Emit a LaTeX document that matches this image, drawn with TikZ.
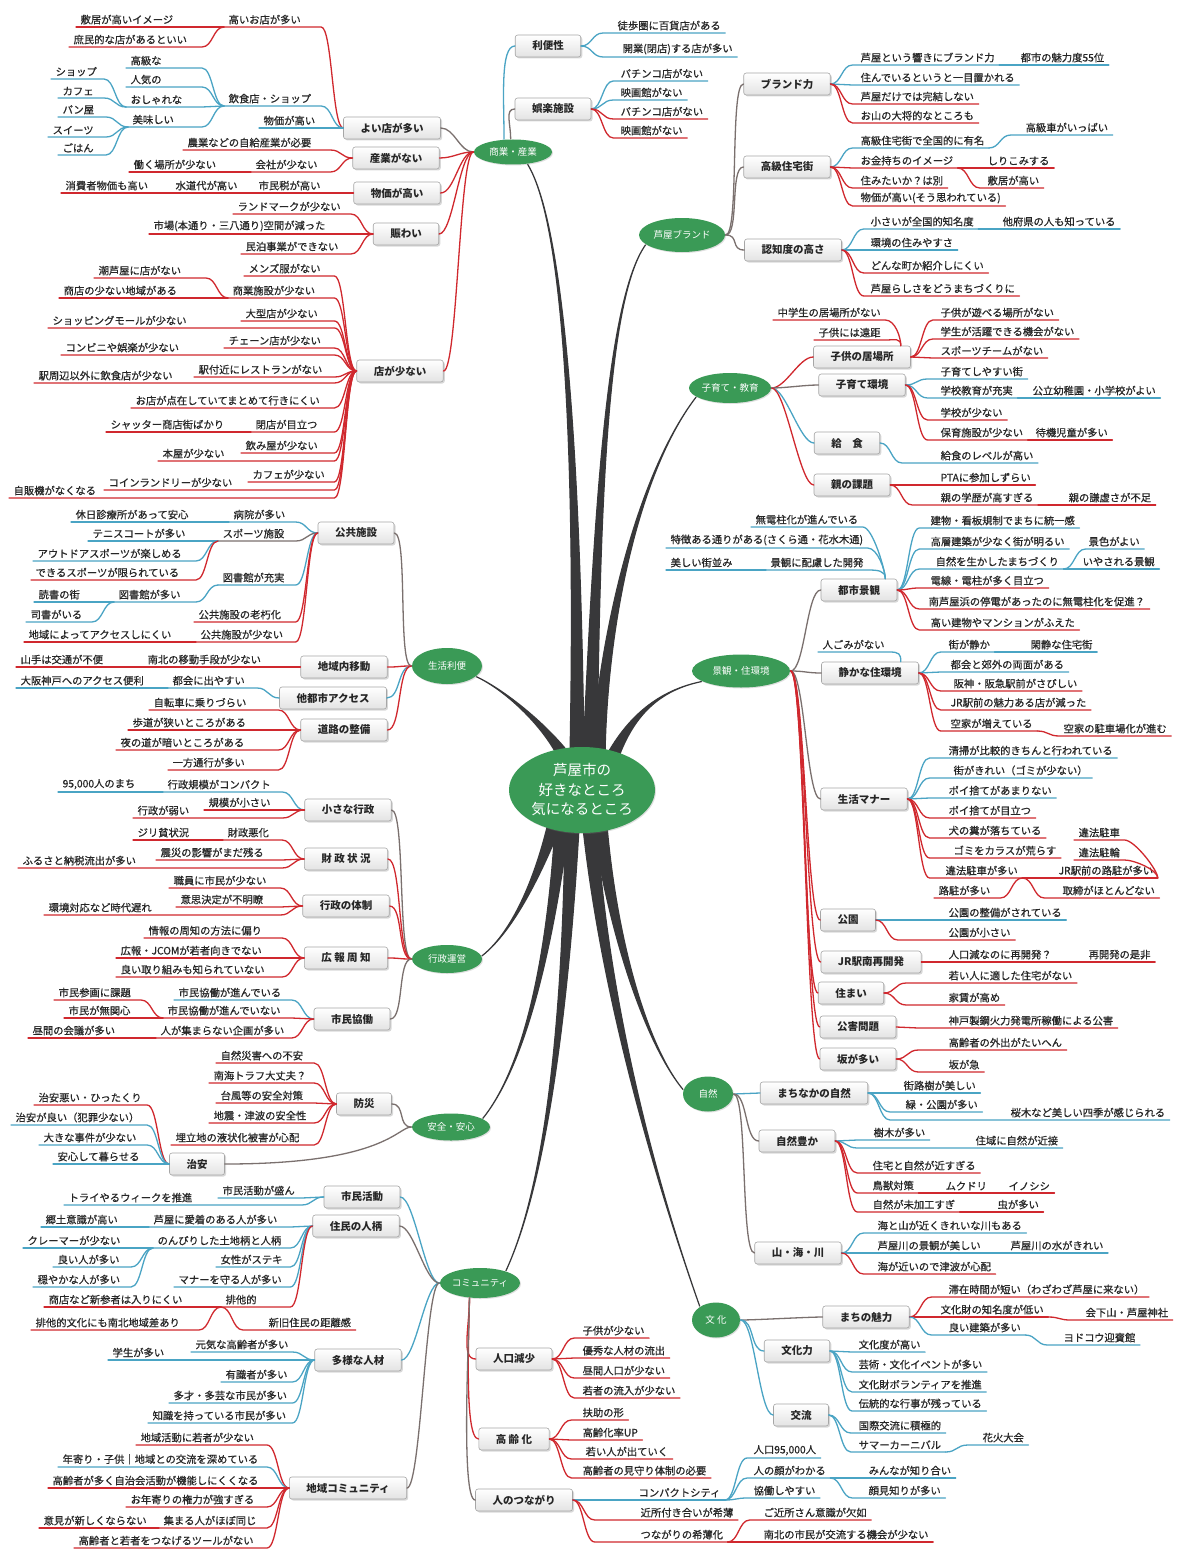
\documentclass[tikz,border=0pt]{standalone}
\usepackage{fontspec}
\setmainfont{Noto Sans CJK JP}
\newfontfamily\leafjp{Noto Sans CJK JP}[FakeBold=0.6]
\usetikzlibrary{shapes.geometric,shadows,backgrounds}

\definecolor{mred}{RGB}{208,40,46}
\definecolor{mblue}{RGB}{74,164,196}
\definecolor{mgray}{RGB}{122,112,110}
\definecolor{mgreen}{RGB}{58,154,86}
\definecolor{mtrunk}{RGB}{56,56,58}

\newcommand\leaffont{\leafjp\fontsize{10.3}{12}\selectfont}
\newcommand\topicfont{\fontsize{10.5}{12}\selectfont\bfseries}
\newcommand\branchfont{\fontsize{9.5}{11}\selectfont}
\newcommand\centerfont{\fontsize{14.5}{19.5}\selectfont}

\tikzset{
  leaf/.style={inner xsep=4pt, inner ysep=2pt, font=\leaffont, text=black!85},
  topic/.style={draw=gray!70, line width=.6pt, rounded corners=2.5pt, top color=white,
    bottom color=gray!22, minimum height=22pt, inner xsep=17pt, font=\topicfont, text=black!85,
    drop shadow={shadow xshift=1.5pt, shadow yshift=-1.5pt, opacity=.3}},
  branch/.style={ellipse, fill=mgreen, text=white, inner sep=0pt, font=\branchfont,
    drop shadow={shadow xshift=1pt, shadow yshift=-1pt, opacity=.25}},
  trunk/.style={fill=mtrunk, draw=mtrunk, line width=1.2pt},
}

% leaf to the right / left of its parent: [fan] name, parent, colour, text x, line y, text
\newcommand\rleaf[7][22]{%
  \node[leaf, anchor=south west] (#2) at (#5-4,#6) {#7};
  \path (#3) ++(#1,0) coordinate (aux);
  \draw[#4] (#3) .. controls +(#1/2,0) and +(-#1/2,0) .. (aux |- #2.south) -- (#2.south east);}
\newcommand\lleaf[7][22]{%
  \node[leaf, anchor=south west] (#2) at (#5-4,#6) {#7};
  \path (#3) ++(-#1,0) coordinate (aux);
  \draw[#4] (#3) .. controls +(-#1/2,0) and +(#1/2,0) .. (aux |- #2.south) -- (#2.south west);}
% leaf hanging up and to the left of a box top
\newcommand\tleaf[6]{%
  \node[leaf, anchor=south west] (#1) at (#4-4,#5) {#6};
  \draw[#3] (#2) .. controls +(0,-8) and +(10,0) .. (#1.south east) -- (#1.south west);}
\newcommand\conE[3]{\draw[#1] (#2) .. controls +(14,0) and +(-14,0) .. (#3);}
\newcommand\conW[3]{\draw[#1] (#2) .. controls +(-14,0) and +(14,0) .. (#3);}
% tapered trunk from the centre: dx, dy, control 1, control 2, end
\newcommand\trunk[5]{%
  \filldraw[trunk] ([shift={(#1-7,#2)}]ctr.center) .. controls ([xshift=-3pt]#3) and (#4) .. (#5)
    .. controls (#4) and ([xshift=3pt]#3) .. ([shift={(#1+7,#2)}]ctr.center) -- cycle;}

\begin{document}
\begin{tikzpicture}[x=1pt, y=-1pt, line width=1.3pt, line cap=round]
\useasboundingbox (0,0) rectangle (1182,1549);

\node[branch, minimum width=146pt, minimum height=86pt, font=\centerfont, align=center] (ctr) at (582,790)
  {芦屋市の\\好きなところ\\気になるところ};
\node[branch, minimum width=78pt, minimum height=25pt] (shogyo) at (513,152) {商業・産業};
\node[branch, minimum width=86pt, minimum height=34pt] (ashiya) at (682,235) {芦屋ブランド};
\node[branch, minimum width=82pt, minimum height=30pt] (kosodate) at (730,388) {子育て・教育};
\node[branch, minimum width=98pt, minimum height=33pt] (keikan) at (741,671) {景観・住環境};
\node[branch, minimum width=70pt, minimum height=36pt] (seikatsu) at (447,666) {生活利便};
\node[branch, minimum width=70pt, minimum height=28pt] (gyosei) at (447,959) {行政運営};
\node[branch, minimum width=78pt, minimum height=27pt] (anzen) at (451,1127) {安全・安心};
\node[branch, minimum width=50pt, minimum height=35pt] (shizen) at (708,1094) {自然};
\node[branch, minimum width=80pt, minimum height=30pt] (commu) at (480,1283) {コミュニティ};
\node[branch, minimum width=48pt, minimum height=35pt] (bunka) at (716,1320) {文 化};

% 商業・産業
\node[topic] (benri) at (548,46) {利便性};
\node[topic] (goraku) at (553,109) {娯楽施設};
\node[topic] (yoimise) at (392,128) {よい店が多い};
\node[topic] (sangyo) at (396,158) {産業がない};
\node[topic] (bukka) at (397,193) {物価が高い};
\node[topic] (nigiwai) at (406,234) {賑わい};
\node[topic] (mise) at (400,371) {店が少ない};
\draw[mblue] (shogyo.125) .. controls +(0,-40) and +(-15,0) .. (benri.west);
\draw[mgray] (shogyo.100) .. controls +(0,-15) and +(-10,0) .. (goraku.west);
\conW{mgray}{shogyo.west}{yoimise.east}
\conW{mred}{shogyo.west}{sangyo.east}
\conW{mred}{shogyo.west}{bukka.east}
\conW{mred}{shogyo.west}{nigiwai.east}
\conW{mred}{shogyo.west}{mise.east}
\rleaf{tohoken}{benri.east}{mblue}{617}{33}{徒歩圏に百貨店がある}
\rleaf{kaigyo}{benri.east}{mblue}{622}{57}{開業(閉店)する店が多い}
\rleaf{pachi1}{goraku.east}{mblue}{620}{81}{パチンコ店がない}
\rleaf{eiga1}{goraku.east}{mblue}{620}{100}{映画館がない}
\rleaf{pachi2}{goraku.east}{mred}{620}{119}{パチンコ店がない}
\rleaf{eiga2}{goraku.east}{mred}{620}{138}{映画館がない}
\lleaf{takaimise}{yoimise.west}{mred}{228}{27}{高いお店が多い}
\lleaf{shikii}{takaimise.south west}{mred}{80}{27}{敷居が高いイメージ}
\lleaf{shomin}{takaimise.south west}{mred}{73}{47}{庶民的な店があるといい}
\lleaf{inshoku}{yoimise.west}{mblue}{228}{106}{飲食店・ショップ}
\lleaf{bukka2}{yoimise.west}{mblue}{263}{128}{物価が高い}
\lleaf{kokyuna}{inshoku.south west}{mblue}{130}{68}{高級な}
\lleaf{ninki}{inshoku.south west}{mblue}{130}{87}{人気の}
\lleaf{oshare}{inshoku.south west}{mblue}{130}{107}{おしゃれな}
\lleaf{oishii}{inshoku.south west}{mblue}{132}{127}{美味しい}
\lleaf{shop}{oshare.south west}{mblue}{55}{79}{ショップ}
\lleaf{cafe}{oshare.south west}{mblue}{62}{98}{カフェ}
\lleaf{pan}{oishii.south west}{mblue}{62}{117}{パン屋}
\lleaf{sweets}{oishii.south west}{mblue}{52}{137}{スイーツ}
\lleaf{gohan}{oishii.south west}{mblue}{62}{155}{ごはん}
\lleaf{nogyo}{sangyo.west}{mred}{187}{150}{農業などの自給産業が必要}
\lleaf{kaisha}{sangyo.west}{mred}{255}{172}{会社が少ない}
\lleaf{hataraku}{kaisha.south west}{mred}{133}{172}{働く場所が少ない}
\lleaf{zei}{bukka.west}{mred}{258}{193}{市民税が高い}
\lleaf{suido}{zei.south west}{mred}{175}{193}{水道代が高い}
\lleaf{shohisha}{suido.south west}{mred}{65}{193}{消費者物価も高い}
\lleaf{landmark}{nigiwai.west}{mred}{237}{214}{ランドマークが少ない}
\lleaf{ichiba}{nigiwai.west}{mred}{153}{234}{市場(本通り・三八通り)空間が減った}
\lleaf{minpaku}{nigiwai.west}{mred}{245}{254}{民泊事業ができない}
\lleaf{mens}{mise.west}{mred}{248}{276}{メンズ服がない}
\lleaf{shisetsu}{mise.west}{mred}{232}{298}{商業施設が少ない}
\lleaf{shioashiya}{shisetsu.south west}{mred}{98}{278}{潮芦屋に店がない}
\lleaf{shoten}{shisetsu.south west}{mred}{63}{298}{商店の少ない地域がある}
\lleaf{ogata}{mise.west}{mred}{245}{321}{大型店が少ない}
\lleaf{mall}{mise.west}{mred}{52}{328}{ショッピングモールが少ない}
\lleaf{chain}{mise.west}{mred}{228}{348}{チェーン店が少ない}
\lleaf{konbini}{mise.west}{mred}{65}{355}{コンビニや娯楽が少ない}
\lleaf{ekifukin}{mise.west}{mred}{198}{377}{駅付近にレストランがない}
\lleaf{ekishuhen}{mise.west}{mred}{38}{383}{駅周辺以外に飲食店が少ない}
\lleaf{tenzai}{mise.west}{mred}{135}{408}{お店が点在していてまとめて行きにくい}
\lleaf{heiten}{mise.west}{mred}{255}{432}{閉店が目立つ}
\lleaf{shutter}{heiten.south west}{mred}{110}{432}{シャッター商店街ばかり}
\lleaf{nomiya}{mise.west}{mred}{245}{453}{飲み屋が少ない}
\lleaf{honya}{mise.west}{mred}{162}{461}{本屋が少ない}
\lleaf{cafe2}{mise.west}{mred}{252}{482}{カフェが少ない}
\lleaf{coin}{mise.west}{mred}{108}{490}{コインランドリーが少ない}
\lleaf{jihanki}{mise.west}{mred}{13}{498}{自販機がなくなる}

% 芦屋ブランド
\node[topic] (brand) at (787,84) {ブランド力};
\node[topic] (jutakugai) at (787,167) {高級住宅街};
\node[topic] (ninchi) at (793,250) {認知度の高さ};
\conE{mgray}{ashiya.east}{brand.west}
\conE{mgray}{ashiya.east}{jutakugai.west}
\conE{mgray}{ashiya.east}{ninchi.west}
\rleaf{hibiki}{brand.east}{mblue}{860}{65}{芦屋という響きにブランド力}
\rleaf{miryokudo}{hibiki.south east}{mblue}{1020}{65}{都市の魅力度55位}
\rleaf{ichimoku}{brand.east}{mblue}{860}{85}{住んでいるというと一目置かれる}
\rleaf{kanketsu}{brand.east}{mred}{860}{104}{芦屋だけでは完結しない}
\rleaf{oyama}{brand.east}{mred}{860}{123}{お山の大将的なところも}
\rleaf{yumei}{jutakugai.east}{mblue}{860}{148}{高級住宅街で全国的に有名}
\rleaf{kokyusha}{yumei.south east}{mblue}{1025}{135}{高級車がいっぱい}
\rleaf{okanemochi}{jutakugai.east}{mred}{860}{168}{お金持ちのイメージ}
\rleaf{shirikomi}{okanemochi.south east}{mred}{987}{168}{しりこみする}
\rleaf{shikii2}{okanemochi.south east}{mred}{987}{188}{敷居が高い}
\rleaf{sumitai}{jutakugai.east}{mred}{860}{188}{住みたいか？は別}
\rleaf{bukkasou}{jutakugai.east}{mred}{860}{206}{物価が高い(そう思われている)}
\rleaf{chimeido}{ninchi.east}{mblue}{870}{229}{小さいが全国的知名度}
\rleaf{tafuken}{chimeido.south east}{mblue}{1002}{229}{他府県の人も知っている}
\rleaf{kankyo}{ninchi.east}{mblue}{870}{250}{環境の住みやすさ}
\rleaf{shokai}{ninchi.east}{mred}{870}{273}{どんな町か紹介しにくい}
\rleaf{rashisa}{ninchi.east}{mred}{870}{296}{芦屋らしさをどうまちづくりに}

% 子育て・教育
\node[topic] (ibasho) at (862,357) {子供の居場所};
\node[topic] (sodate) at (862,385) {子育て環境};
\node[topic] (kyushoku) at (847,443) {給　食};
\node[topic] (oya) at (852,485) {親の課題};
\conE{mred}{kosodate.east}{ibasho.west}
\conE{mgray}{kosodate.east}{sodate.west}
\conE{mblue}{kosodate.east}{kyushoku.west}
\conE{mred}{kosodate.east}{oya.west}
\tleaf{chugaku}{[xshift=-10pt]ibasho.north east}{mred}{777}{320}{中学生の居場所がない}
\tleaf{toi}{[xshift=-10pt]ibasho.north east}{mred}{818}{340}{子供には遠距}
\rleaf{asobu}{ibasho.east}{mred}{940}{320}{子供が遊べる場所がない}
\rleaf{katsuyaku}{ibasho.east}{mred}{940}{339}{学生が活躍できる機会がない}
\rleaf{sports}{ibasho.east}{mred}{940}{358}{スポーツチームがない}
\rleaf{shiyasui}{sodate.east}{mblue}{940}{379}{子育てしやすい街}
\rleaf{juujitsu}{sodate.east}{mblue}{940}{398}{学校教育が充実}
\rleaf{koritsu}{juujitsu.south east}{mblue}{1032}{398}{公立幼稚園・小学校がよい}
\rleaf{gakko}{sodate.east}{mred}{940}{420}{学校が少ない}
\rleaf{hoiku}{sodate.east}{mred}{940}{440}{保育施設が少ない}
\rleaf{taiki}{hoiku.south east}{mred}{1035}{440}{待機児童が多い}
\rleaf{kyushokulevel}{kyushoku.east}{mblue}{940}{463}{給食のレベルが高い}
\rleaf{pta}{oya.east}{mred}{940}{485}{PTAに参加しずらい}
\rleaf{gakureki}{oya.east}{mred}{940}{505}{親の学歴が高すぎる}
\rleaf{kenkyo}{gakureki.south east}{mred}{1068}{505}{親の謙虚さが不足}

% 景観・住環境
\node[topic] (toshi) at (859,590) {都市景観};
\node[topic] (shizuka) at (870,673) {静かな住環境};
\node[topic] (manner) at (864,799) {生活マナー};
\node[topic] (koen) at (848,920) {公園};
\node[topic] (jrsaikai) at (871,962) {JR駅南再開発};
\node[topic] (sumai) at (851,993) {住まい};
\node[topic] (kogai) at (858,1027) {公害問題};
\node[topic] (saka) at (858,1059) {坂が多い};
\conE{mgray}{keikan.east}{toshi.west}
\conE{mgray}{keikan.east}{shizuka.west}
\conE{mgray}{keikan.east}{manner.west}
\conE{mred}{keikan.east}{koen.west}
\conE{mred}{keikan.east}{jrsaikai.west}
\conE{mred}{keikan.east}{sumai.west}
\conE{mred}{keikan.east}{kogai.west}
\conE{mred}{keikan.east}{saka.west}
\tleaf{mudenchu}{[xshift=-12pt]toshi.north east}{mblue}{755}{527}{無電柱化が進んでいる}
\tleaf{tokucho}{[xshift=-12pt]toshi.north east}{mblue}{670}{548}{特徴ある通りがある(さくら通・花水木通)}
\tleaf{hairyo}{[xshift=-12pt]toshi.north east}{mblue}{770}{570}{景観に配慮した開発}
\lleaf{machinami}{hairyo.south west}{mblue}{670}{570}{美しい街並み}
\rleaf{tokitsu}{toshi.east}{mblue}{930}{528}{建物・看板規制でまちに統一感}
\rleaf{akarui}{toshi.east}{mblue}{930}{549}{高層建築が少なく街が明るい}
\rleaf{ikashita}{toshi.east}{mblue}{935}{569}{自然を生かしたまちづくり}
\rleaf{keshiki}{ikashita.south east}{mblue}{1088}{549}{景色がよい}
\rleaf{iyasareru}{ikashita.south east}{mblue}{1082}{569}{いやされる景観}
\rleaf{densen}{toshi.east}{mred}{930}{588}{電線・電柱が多く目立つ}
\rleaf{teiden}{toshi.east}{mred}{928}{609}{南芦屋浜の停電があったのに無電柱化を促進？}
\rleaf{takaitatemono}{toshi.east}{mred}{930}{630}{高い建物やマンションがふえた}
\tleaf{hitogomi}{[xshift=-18pt]shizuka.north east}{mblue}{822}{652}{人ごみがない}
\rleaf{shizuka1}{shizuka.east}{mblue}{948}{652}{街が静か}
\rleaf{kansei}{shizuka1.south east}{mblue}{1030}{652}{閑静な住宅街}
\rleaf{ryomen}{shizuka.east}{mblue}{950}{672}{都会と郊外の両面がある}
\rleaf{hanshin}{shizuka.east}{mred}{953}{691}{阪神・阪急駅前がさびしい}
\rleaf{jrmae}{shizuka.east}{mred}{950}{710}{JR駅前の魅力ある店が減った}
\rleaf{akiya}{shizuka.east}{mred}{950}{731}{空家が増えている}
\rleaf{chushajo}{akiya.south east}{mred}{1063}{736}{空家の駐車場化が進む}
\rleaf{seiso}{manner.east}{mblue}{948}{758}{清掃が比較的きちんと行われている}
\rleaf{kirei}{manner.east}{mblue}{953}{778}{街がきれい（ゴミが少ない）}
\rleaf{poi1}{manner.east}{mblue}{948}{798}{ポイ捨てがあまりない}
\rleaf{poi2}{manner.east}{mred}{948}{818}{ポイ捨てが目立つ}
\rleaf{fun}{manner.east}{mred}{948}{838}{犬の糞が落ちている}
\rleaf{karasu}{manner.east}{mred}{953}{858}{ゴミをカラスが荒らす}
\rleaf{ihou}{manner.east}{mred}{945}{878}{違法駐車が多い}
\rleaf{rochujr}{ihou.south east}{mred}{1058}{878}{JR駅前の路駐が多い}
\tleaf{ihochusha}{rochujr.south east}{mred}{1078}{840}{違法駐車}
\tleaf{ihochurin}{rochujr.south east}{mred}{1078}{860}{違法駐輪}
\lleaf{rochu}{ihou.south east}{mred}{938}{898}{路駐が多い}
\rleaf{torishimari}{ihou.south east}{mred}{1062}{898}{取締がほとんどない}
\rleaf{seibi}{koen.east}{mblue}{948}{920}{公園の整備がされている}
\rleaf{chiisai}{koen.east}{mred}{948}{940}{公園が小さい}
\rleaf{jinkogen}{jrsaikai.east}{mred}{948}{962}{人口減なのに再開発？}
\rleaf{zehi}{jinkogen.south east}{mred}{1088}{962}{再開発の是非}
\rleaf{wakai}{sumai.east}{mred}{948}{983}{若い人に適した住宅がない}
\rleaf{yachin}{sumai.east}{mred}{948}{1005}{家賃が高め}
\rleaf{kobe}{kogai.east}{mred}{948}{1028}{神戸製鋼火力発電所稼働による公害}
\rleaf{gaishutsu}{saka.east}{mred}{948}{1050}{高齢者の外出がたいへん}
\rleaf{sakakyu}{saka.east}{mred}{948}{1072}{坂が急}

% 自然
\node[topic] (machinaka) at (814,1093) {まちなかの自然};
\node[topic] (yutaka) at (797,1141) {自然豊か};
\node[topic] (yamaumi) at (798,1253) {山・海・川};
\conE{mblue}{shizen.east}{machinaka.west}
\conE{mgray}{shizen.east}{yutaka.west}
\conE{mgray}{shizen.east}{yamaumi.west}
\rleaf{gairoju}{machinaka.east}{mblue}{903}{1093}{街路樹が美しい}
\rleaf{midori}{machinaka.east}{mblue}{905}{1112}{緑・公園が多い}
\rleaf{sakuragi}{machinaka.east}{mblue}{1010}{1120}{桜木など美しい四季が感じられる}
\rleaf{jumoku}{yutaka.east}{mblue}{873}{1140}{樹木が多い}
\rleaf{kinsetsu}{yutaka.east}{mblue}{975}{1148}{住域に自然が近接}
\rleaf{chikasugi}{yutaka.east}{mred}{872}{1173}{住宅と自然が近すぎる}
\rleaf{chojuu}{yutaka.east}{mred}{872}{1193}{鳥獣対策}
\rleaf{mukudori}{chojuu.south east}{mred}{945}{1193}{ムクドリ}
\rleaf{inoshishi}{mukudori.south east}{mred}{1008}{1193}{イノシシ}
\rleaf{mikako}{yutaka.east}{mred}{872}{1212}{自然が未加工すぎ}
\rleaf{mushi}{mikako.south east}{mred}{997}{1212}{虫が多い}
\rleaf{umitoyama}{yamaumi.east}{mblue}{877}{1233}{海と山が近くきれいな川もある}
\rleaf{ashiyagawa}{yamaumi.east}{mblue}{877}{1253}{芦屋川の景観が美しい}
\rleaf{mizu}{ashiyagawa.south east}{mblue}{1010}{1253}{芦屋川の水がきれい}
\rleaf{tsunami}{yamaumi.east}{mred}{877}{1274}{海が近いので津波が心配}

% 文化
\node[topic] (miryoku) at (866,1317) {まちの魅力};
\node[topic] (bunkaryoku) at (797,1351) {文化力};
\node[topic] (koryu) at (801,1415) {交流};
\conE{mgray}{bunka.east}{miryoku.west}
\conE{mblue}{bunka.east}{bunkaryoku.west}
\conE{mblue}{bunka.east}{koryu.west}
\rleaf{taizai}{miryoku.east}{mred}{948}{1297}{滞在時間が短い（わざわざ芦屋に来ない）}
\rleaf{chimeido2}{miryoku.east}{mred}{940}{1317}{文化財の知名度が低い}
\rleaf{egeyama}{chimeido2.south east}{mred}{1085}{1320}{会下山・芦屋神社}
\rleaf{kenchiku}{miryoku.east}{mblue}{948}{1335}{良い建築が多い}
\rleaf{yodoko}{kenchiku.south east}{mblue}{1063}{1345}{ヨドコウ迎賓館}
\rleaf{bunkado}{bunkaryoku.east}{mblue}{858}{1352}{文化度が高い}
\rleaf{geijutsu}{bunkaryoku.east}{mblue}{858}{1372}{芸術・文化イベントが多い}
\rleaf{volunteer}{bunkaryoku.east}{mblue}{858}{1392}{文化財ボランティアを推進}
\rleaf{dento}{bunkaryoku.east}{mblue}{858}{1411}{伝統的な行事が残っている}
\rleaf{kokusai}{koryu.east}{mblue}{858}{1433}{国際交流に積極的}
\rleaf{summer}{koryu.east}{mblue}{858}{1452}{サマーカーニバル}
\rleaf{hanabi}{summer.south east}{mblue}{982}{1445}{花火大会}

% コミュニティ
\node[topic] (shimin) at (362,1197) {市民活動};
\node[topic] (hitogara) at (356,1226) {住民の人柄};
\node[topic] (tayo) at (358,1360) {多様な人材};
\node[topic] (chiiki) at (348,1488) {地域コミュニティ};
\node[topic] (jinkogensho) at (514,1359) {人口減少};
\node[topic] (koreika) at (514,1439) {高 齢 化};
\node[topic] (tsunagari) at (524,1500) {人のつながり};
\conW{mblue}{commu.west}{shimin.east}
\conW{mgray}{commu.west}{hitogara.east}
\conW{mblue}{commu.west}{tayo.east}
\conW{mgray}{commu.west}{chiiki.east}
\draw[mred] (commu.235) .. controls +(0,30) and +(-15,0) .. (jinkogensho.west);
\draw[mred] (commu.235) .. controls +(0,30) and +(-15,0) .. (koreika.west);
\draw[mgray] (commu.235) .. controls +(0,30) and +(-15,0) .. (tsunagari.west);
\lleaf{sakan}{shimin.west}{mblue}{222}{1198}{市民活動が盛ん}
\lleaf{tryyaru}{shimin.west}{mblue}{68}{1205}{トライやるウィークを推進}
\lleaf{aichaku}{hitogara.west}{mblue}{153}{1227}{芦屋に愛着のある人が多い}
\lleaf{kyodo}{aichaku.south west}{mblue}{45}{1227}{郷土意識が高い}
\lleaf{nonbiri}{hitogara.west}{mblue}{157}{1248}{のんびりした土地柄と人柄}
\lleaf{claimer}{nonbiri.south west}{mblue}{27}{1248}{クレーマーが少ない}
\lleaf{yoihito}{nonbiri.south west}{mblue}{57}{1267}{良い人が多い}
\lleaf{odayaka}{nonbiri.south west}{mblue}{37}{1287}{穏やかな人が多い}
\lleaf{josei}{hitogara.west}{mblue}{220}{1267}{女性がステキ}
\lleaf{mamoru}{hitogara.west}{mblue}{178}{1287}{マナーを守る人が多い}
\lleaf{haita}{hitogara.west}{mred}{225}{1307}{排他的}
\lleaf{shinzan}{haita.south west}{mred}{48}{1307}{商店など新参者は入りにくい}
\lleaf{haitabunka}{haita.south west}{mred}{35}{1330}{排他的文化にも南北地域差あり}
\rleaf{shinkyu}{haita.south west}{mred}{268}{1330}{新旧住民の距離感}
\lleaf{genki}{tayo.west}{mblue}{195}{1352}{元気な高齢者が多い}
\lleaf{gakusei}{tayo.west}{mblue}{112}{1360}{学生が多い}
\lleaf{yushiki}{tayo.west}{mblue}{225}{1382}{有識者が多い}
\lleaf{tasai}{tayo.west}{mblue}{173}{1403}{多才・多芸な市民が多い}
\lleaf{chishiki}{tayo.west}{mblue}{152}{1423}{知識を持っている市民が多い}
\lleaf{wakamono}{chiiki.west}{mred}{140}{1445}{地域活動に若者が少ない}
\lleaf{toshiyori}{chiiki.west}{mblue}{62}{1467}{年寄り・子供｜地域との交流を深めている}
\lleaf{jichikai}{chiiki.west}{mred}{52}{1488}{高齢者が多く自治会活動が機能しにくくなる}
\lleaf{kenryoku}{chiiki.west}{mred}{130}{1507}{お年寄りの権力が強すぎる}
\lleaf{onaji}{chiiki.west}{mred}{163}{1528}{集まる人がほぼ同じ}
\lleaf{iken}{onaji.south west}{mred}{43}{1528}{意見が新しくならない}
\lleaf{tool}{chiiki.west}{mred}{78}{1548}{高齢者と若者をつなげるツールがない}
\rleaf{kodomo}{jinkogensho.east}{mred}{582}{1338}{子供が少ない}
\rleaf{ryushutsu}{jinkogensho.east}{mred}{582}{1358}{優秀な人材の流出}
\rleaf{hiruma}{jinkogensho.east}{mred}{582}{1378}{昼間人口が少ない}
\rleaf{ryunyu}{jinkogensho.east}{mred}{582}{1398}{若者の流入が少ない}
\rleaf{fujo}{koreika.east}{mred}{582}{1420}{扶助の形}
\rleaf{koreikaritsu}{koreika.east}{mred}{582}{1440}{高齢化率UP}
\rleaf{deteiku}{koreika.east}{mred}{585}{1459}{若い人が出ていく}
\rleaf{mimamori}{koreika.east}{mred}{582}{1478}{高齢者の見守り体制の必要}
\rleaf{compact}{tsunagari.east}{mblue}{638}{1500}{コンパクトシティ}
\rleaf{jinko95}{compact.south east}{mblue}{753}{1458}{人口95,000人}
\rleaf{kao}{compact.south east}{mblue}{753}{1478}{人の顔がわかる}
\rleaf{kyodo2}{compact.south east}{mblue}{753}{1498}{協働しやすい}
\rleaf{minna}{kao.south east}{mblue}{868}{1478}{みんなが知り合い}
\rleaf{kaomishiri}{kao.south east}{mblue}{868}{1498}{顔見知りが多い}
\rleaf{kinjo}{tsunagari.east}{mred}{640}{1520}{近所付き合いが希薄}
\rleaf{kihaku}{tsunagari.east}{mred}{640}{1542}{つながりの希薄化}
\rleaf{gokinjo}{kihaku.south east}{mred}{763}{1520}{ご近所さん意識が欠如}
\rleaf{nanboku}{kihaku.south east}{mred}{763}{1542}{南北の市民が交流する機会が少ない}

% 安全・安心
\node[topic] (bosai) at (364,1104) {防災};
\node[topic] (chian) at (197,1164) {治安};
\conW{mgray}{anzen.west}{bosai.east}
\draw[mgray] (anzen.west) .. controls +(-14,0) and +(160,0) .. (chian.east);
\lleaf{saigai}{bosai.west}{mred}{220}{1063}{自然災害への不安}
\lleaf{nankai}{bosai.west}{mred}{213}{1083}{南海トラフ大丈夫？}
\lleaf{taifu}{bosai.west}{mred}{220}{1103}{台風等の安全対策}
\lleaf{jishin}{bosai.west}{mred}{213}{1123}{地震・津波の安全性}
\lleaf{ekijoka}{bosai.west}{mred}{175}{1145}{埋立地の液状化被害が心配}
\lleaf{hittakuri}{chian.west}{mred}{38}{1105}{治安悪い・ひったくり}
\lleaf{chianyoi}{chian.west}{mblue}{15}{1125}{治安が良い（犯罪少ない）}
\lleaf{jiken}{chian.west}{mblue}{43}{1145}{大きな事件が少ない}
\lleaf{anshin}{chian.west}{mblue}{57}{1164}{安心して暮らせる}

% 行政運営
\node[topic] (chiisana) at (348,810) {小さな行政};
\node[topic] (zaisei) at (346,859) {財 政 状 況};
\node[topic] (taisei) at (346,906) {行政の体制};
\node[topic] (koho) at (346,958) {広 報 周 知};
\node[topic] (kyodo3) at (352,1019) {市民協働};
\conW{mgray}{gyosei.west}{chiisana.east}
\conW{mred}{gyosei.west}{zaisei.east}
\conW{mred}{gyosei.west}{taisei.east}
\conW{mred}{gyosei.west}{koho.east}
\conW{mgray}{gyosei.west}{kyodo3.east}
\lleaf{compact2}{chiisana.west}{mblue}{167}{792}{行政規模がコンパクト}
\lleaf{manchi}{compact2.south west}{mblue}{62}{792}{95,000人のまち}
\lleaf{kibo}{chiisana.west}{mred}{208}{810}{規模が小さい}
\lleaf{yowai}{chiisana.west}{mred}{137}{818}{行政が弱い}
\lleaf{akka}{zaisei.west}{mred}{227}{840}{財政悪化}
\lleaf{jiri}{akka.south west}{mred}{137}{840}{ジリ貧状況}
\lleaf{shinsai}{zaisei.west}{mred}{160}{860}{震災の影響がまだ残る}
\lleaf{furusato}{zaisei.west}{mred}{22}{868}{ふるさと納税流出が多い}
\lleaf{shokuin}{taisei.west}{mred}{173}{888}{職員に市民が少ない}
\lleaf{ishi}{taisei.west}{mred}{180}{907}{意思決定が不明瞭}
\lleaf{jidai}{taisei.west}{mred}{48}{915}{環境対応など時代遅れ}
\lleaf{henri}{koho.west}{mred}{148}{938}{情報の周知の方法に偏り}
\lleaf{jcom}{koho.west}{mred}{120}{958}{広報・JCOMが若者向きでない}
\lleaf{torikumi}{koho.west}{mred}{120}{977}{良い取り組みも知られていない}
\lleaf{susunde}{kyodo3.west}{mblue}{178}{1000}{市民協働が進んでいる}
\lleaf{susundenai}{kyodo3.west}{mred}{167}{1018}{市民協働が進んでいない}
\lleaf{sankaku}{susundenai.south west}{mred}{58}{1000}{市民参画に課題}
\lleaf{mukanshin}{susundenai.south west}{mred}{68}{1018}{市民が無関心}
\lleaf{kikaku}{kyodo3.west}{mred}{160}{1038}{人が集まらない企画が多い}
\lleaf{hiruma2}{kikaku.south west}{mred}{32}{1038}{昼間の会議が多い}

% 生活利便
\node[topic] (kokyo) at (356,533) {公共施設};
\node[topic] (idou) at (344,667) {地域内移動};
\node[topic] (access) at (333,698) {他都市アクセス};
\node[topic] (doro) at (344,730) {道路の整備};
\conW{mgray}{seikatsu.west}{kokyo.east}
\conW{mred}{seikatsu.west}{idou.east}
\conW{mblue}{seikatsu.west}{access.east}
\conW{mred}{seikatsu.west}{doro.east}
\lleaf{byoin}{kokyo.west}{mblue}{233}{522}{病院が多い}
\lleaf{kyujitsu}{byoin.south west}{mblue}{75}{522}{休日診療所があって安心}
\lleaf{sports2}{kokyo.west}{mgray}{222}{541}{スポーツ施設}
\lleaf{tennis}{sports2.south west}{mblue}{92}{541}{テニスコートが多い}
\lleaf{outdoor}{sports2.south west}{mblue}{37}{561}{アウトドアスポーツが楽しめる}
\lleaf{kagirare}{sports2.south west}{mred}{35}{580}{できるスポーツが限られている}
\lleaf{toshokan}{kokyo.west}{mblue}{222}{585}{図書館が充実}
\lleaf{toshokan2}{toshokan.south west}{mblue}{118}{602}{図書館が多い}
\lleaf{dokusho}{toshokan2.south west}{mblue}{38}{602}{読書の街}
\lleaf{shisho}{toshokan2.south west}{mblue}{30}{622}{司書がいる}
\lleaf{rokyuka}{kokyo.west}{mred}{198}{622}{公共施設の老朽化}
\lleaf{sukunai}{kokyo.west}{mred}{200}{642}{公共施設が少ない}
\lleaf{chiikiyori}{sukunai.south west}{mred}{28}{642}{地域によってアクセスしにくい}
\lleaf{nanboku2}{idou.west}{mred}{147}{667}{南北の移動手段が少ない}
\lleaf{yamate}{nanboku2.south west}{mred}{20}{667}{山手は交通が不便}
\lleaf{dekake}{access.west}{mblue}{172}{688}{都会に出やすい}
\lleaf{osaka}{dekake.south west}{mblue}{20}{688}{大阪神戸へのアクセス便利}
\lleaf{jitensha}{doro.west}{mred}{153}{710}{自転車に乗りづらい}
\lleaf{hodo}{doro.west}{mred}{132}{730}{歩道が狭いところがある}
\lleaf{yoru}{doro.west}{mred}{120}{750}{夜の道が暗いところがある}
\lleaf{ippo}{doro.west}{mred}{172}{770}{一方通行が多い}

\begin{scope}[on background layer]
\fill[white] (0,0) rectangle (1182,1549);
\trunk{-5}{-35}{578,500}{568,230}{shogyo.-40}
\trunk{8}{-35}{597,520}{606,300}{ashiya.195}
\trunk{16}{-33}{604,620}{640,470}{kosodate.195}
\trunk{28}{-28}{630,715}{660,690}{keikan.195}
\trunk{-17}{-33}{545,725}{505,690}{seikatsu.-20}
\trunk{-27}{33}{540,870}{515,930}{gyosei.5}
\trunk{-20}{36}{552,930}{530,1060}{anzen.15}
\trunk{-10}{38}{566,1000}{548,1180}{commu.25}
\trunk{8}{38}{605,1000}{655,1180}{bunka.140}
\trunk{18}{36}{615,950}{650,1050}{shizen.170}
\end{scope}
\end{tikzpicture}
\end{document}
